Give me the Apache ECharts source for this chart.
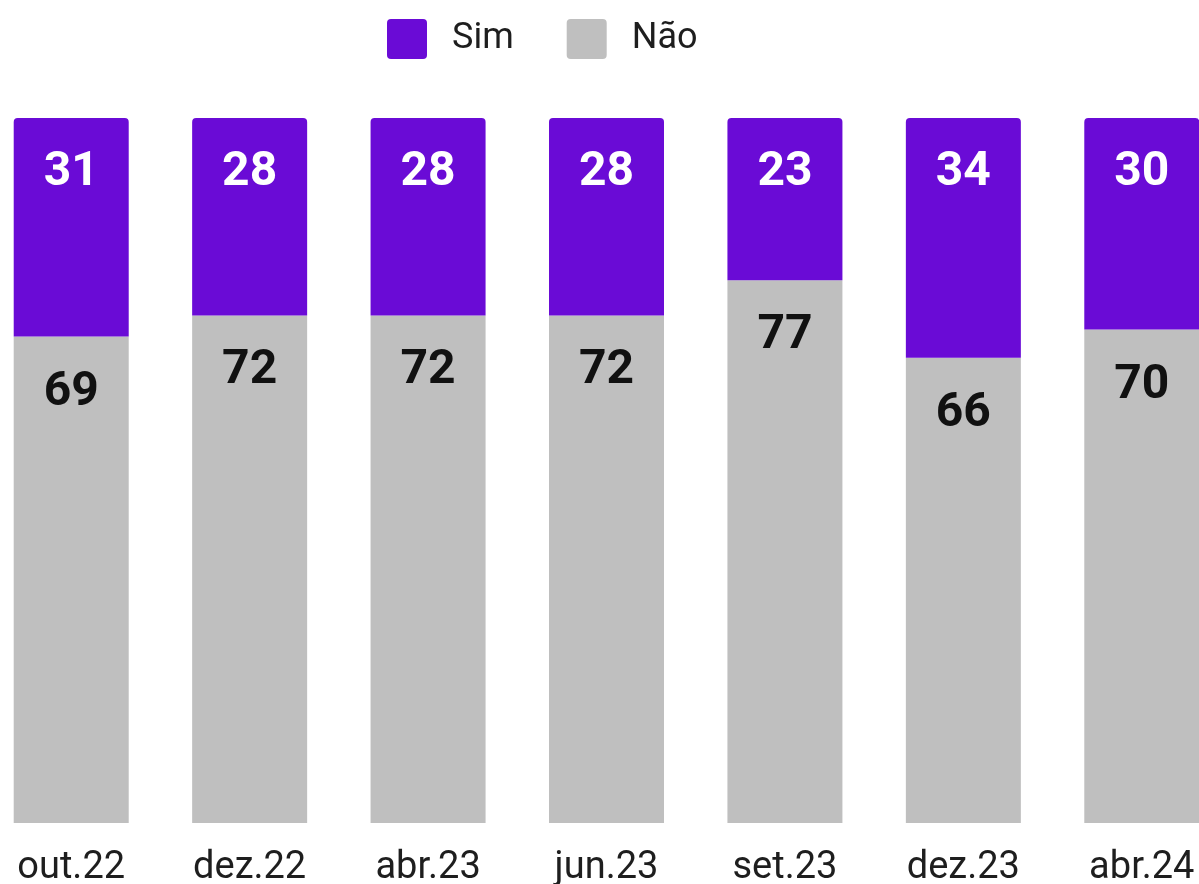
<!DOCTYPE html>
<html>
<head>
<meta charset="utf-8">
<script src="https://cdn.jsdelivr.net/npm/echarts@6/dist/echarts.min.js"></script>
</head>
<body style="margin:0;padding:0;background:#fff;">
<div id="main" style="width:1199px;height:884px;"></div>
<script>
var categories = ['out.22', 'dez.22', 'abr.23', 'jun.23', 'set.23', 'dez.23', 'abr.24'];
var sim = [31, 28, 28, 28, 23, 34, 30];
var nao = [69, 72, 72, 72, 77, 66, 70];

var chart = echarts.init(document.getElementById('main'));

// quadrado com cantos levemente arredondados
var squareIcon = 'path://M4,0 H36 Q40,0 40,4 V36 Q40,40 36,40 H4 Q0,40 0,36 V4 Q0,0 4,0 Z';

var option = {
    backgroundColor: '#fff',
    animation: false,
    legend: {
        top: 14,
        left: 382,
        itemWidth: 40,
        itemHeight: 40,
        itemGap: 53,
        icon: squareIcon,
        textStyle: {
            fontFamily: 'Roboto',
            fontSize: 36,
            color: '#1e1e1e',
            padding: [8, 0, 0, 20]
        },
        data: ['Sim', 'Não']
    },
    grid: {
        left: -18,
        right: -32,
        top: 118,
        bottom: 61,
        containLabel: false,
        outerBoundsMode: 'none'
    },
    xAxis: {
        type: 'category',
        data: categories,
        axisLine: { show: false },
        axisTick: { show: false },
        axisLabel: {
            margin: 26,
            fontFamily: 'Roboto',
            fontSize: 38,
            color: '#1e1e1e'
        }
    },
    yAxis: {
        type: 'value',
        min: 0,
        max: 100,
        show: false
    },
    series: [
        {
            name: 'Não',
            type: 'bar',
            stack: 'total',
            barWidth: 115,
            data: nao,
            itemStyle: { color: '#bfbfbf' },
            label: {
                show: true,
                position: 'insideTop',
                distance: 32,
                fontFamily: 'Roboto',
                fontWeight: 'bold',
                fontSize: 48,
                color: '#111'
            }
        },
        {
            name: 'Sim',
            type: 'bar',
            stack: 'total',
            barWidth: 115,
            data: sim,
            itemStyle: { color: '#6a0bd6', borderRadius: [4, 4, 0, 0] },
            label: {
                show: true,
                position: 'insideTop',
                distance: 31,
                fontFamily: 'Roboto',
                fontWeight: 'bold',
                fontSize: 48,
                color: '#fff'
            }
        }
    ]
};
chart.setOption(option);
</script>
</body>
</html>
